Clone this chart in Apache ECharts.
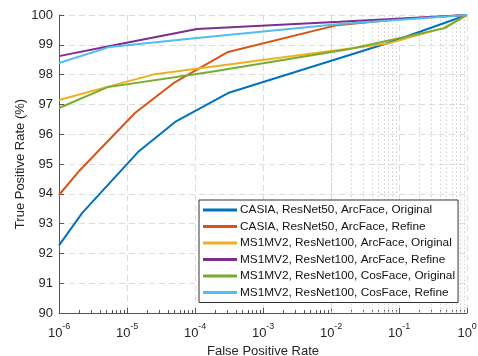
<!DOCTYPE html>
<html>
<head>
<meta charset="utf-8">
<script src="https://cdn.jsdelivr.net/npm/echarts@6/dist/echarts.min.js"></script>
<style>html,body{margin:0;padding:0;background:#fff;}#c{width:478px;height:356px;}</style>
</head>
<body>
<div id="c"></div>
<script>
const seriesNames = [
  'CASIA, ResNet50, ArcFace, Original',
  'CASIA, ResNet50, ArcFace, Refine',
  'MS1MV2, ResNet100, ArcFace, Original',
  'MS1MV2, ResNet100, ArcFace, Refine',
  'MS1MV2, ResNet100, CosFace, Original',
  'MS1MV2, ResNet100, CosFace, Refine'
];
const casiaOriginal = [[1e-6,92.27],[2.2e-6,93.36],[1.45e-5,95.4],[5.1e-5,96.41],[3.06e-4,97.38],[0.069,99.06],[1,100]];
const casiaRefine   = [[1e-6,93.96],[2.04e-6,94.8],[1.31e-5,96.71],[5.1e-5,97.75],[3.06e-4,98.76],[0.0123,99.66],[0.1,99.86],[1,100]];
const arcOriginal   = [[1e-6,97.15],[2.4e-5,98.0],[0.068,99.04],[0.45,99.56],[1,100]];
const arcRefine     = [[1e-6,98.62],[5.6e-6,98.96],[1.07e-4,99.53],[0.0134,99.77],[1,100]];
const cosOriginal   = [[1e-6,96.88],[5.2e-6,97.58],[1.66e-4,98.09],[0.019,98.86],[0.47,99.56],[1,100]];
const cosRefine     = [[1e-6,98.39],[5.6e-6,98.93],[1.07e-4,99.23],[0.0134,99.7],[1,100]];
const seriesData = [casiaOriginal, casiaRefine, arcOriginal, arcRefine, cosOriginal, cosRefine];
const colors = ['#0072BD','#D95319','#EDB120','#7E2F8E','#77AC30','#4DBEEE'];
const yTicks = [90,91,92,93,94,95,96,97,98,99,100];

// minor log grid positions (2..9 x 10^d)
const minorX = [];
for (let d = -6; d < 0; d++) for (let k = 2; k <= 9; k++) minorX.push(k * Math.pow(10, d));

const font = "'Liberation Sans', Arial, sans-serif";
const chart = echarts.init(document.getElementById('c'));

const series = seriesData.map((d, i) => ({
  name: seriesNames[i], type: 'line', data: d, symbol: 'none', z: 3,
  lineStyle: { color: colors[i], width: 2 }, itemStyle: { color: colors[i] }
}));
series.unshift({
  type: 'line', data: [], symbol: 'none', z: 0, silent: true,
  markLine: {
    silent: true, symbol: 'none', label: { show: false }, z: 1,
    lineStyle: { color: '#cfcfcf', type: [1.5, 2.5], width: 1 },
    data: minorX.map(x => ({ xAxis: x }))
  }
});
series.unshift({
  type: 'line', data: [], symbol: 'none', z: 1, silent: true,
  markLine: {
    silent: true, symbol: 'none', label: { show: false }, z: 1,
    lineStyle: { color: '#555', type: 'solid', width: 1 },
    data: minorX.map(x => [{ coord: [x, 90] }, { coord: [x, 90.1] }])
  }
});

chart.setOption({
  animation: false,
  textStyle: { fontFamily: font },
  grid: { left: 59, right: 11, top: 15, bottom: 43, outerBoundsMode: 'none', containLabel: false },
  legend: {
    orient: 'vertical', left: 199, top: 200, z: 20,
    data: seriesNames, icon: 'rect', itemWidth: 34, itemHeight: 3, itemGap: 2.5,
    padding: [3, 3, 3, 4],
    backgroundColor: '#fff', borderColor: '#333', borderWidth: 1,
    textStyle: { fontFamily: font, fontSize: 11.8, color: '#111', lineHeight: 14, padding: [0, 0, 0, -2] }
  },
  xAxis: {
    type: 'log', logBase: 10, min: 1e-6, max: 1,
    name: 'False Positive Rate', nameLocation: 'middle', nameGap: 30,
    nameTextStyle: { fontSize: 13, color: '#262626', fontFamily: font },
    axisLine: { show: true, lineStyle: { color: '#555' } },
    axisTick: { show: true, inside: true, length: 5, lineStyle: { color: '#555' } },
    splitLine: { show: true, lineStyle: { color: '#dcdcdc', type: [6, 4] } },
    axisLabel: {
      margin: 9, color: '#262626',
      formatter: v => '{h| }{b|10}{s|' + Math.round(Math.log10(v)) + '}',
      rich: {
        h: { fontSize: 1, lineHeight: 18 },
        b: { fontSize: 13, lineHeight: 14, verticalAlign: 'bottom', color: '#262626', fontFamily: font },
        s: { fontSize: 9, lineHeight: 10, verticalAlign: 'top', color: '#262626', fontFamily: font }
      }
    }
  },
  yAxis: {
    type: 'value', min: yTicks[0], max: yTicks[yTicks.length - 1], interval: 1,
    name: 'True Positive Rate (%)', nameLocation: 'middle', nameGap: 32, nameMoveOverlap: false,
    nameTextStyle: { fontSize: 13, color: '#262626', fontFamily: font },
    axisLine: { show: true, lineStyle: { color: '#555' } },
    axisTick: { show: true, inside: true, length: 5, lineStyle: { color: '#555' } },
    splitLine: { show: true, lineStyle: { color: '#dcdcdc', type: [6, 4] } },
    axisLabel: { fontSize: 13, color: '#262626', margin: 6 }
  },
  series: series
});
</script>
</body>
</html>
